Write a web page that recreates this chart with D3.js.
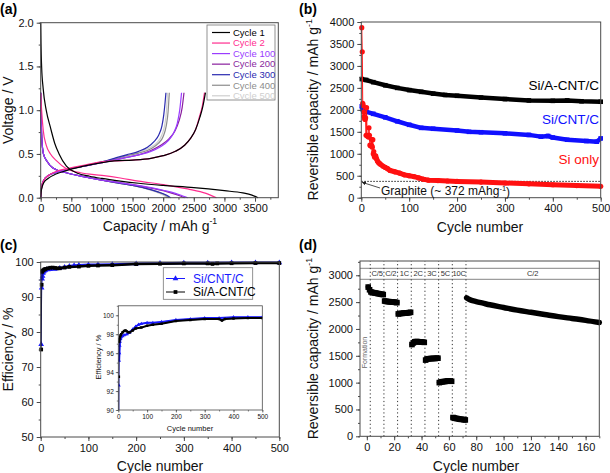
<!DOCTYPE html>
<html><head><meta charset="utf-8">
<script src="https://cdn.jsdelivr.net/npm/d3@7/dist/d3.min.js"></script>
<style>body{margin:0;background:#fff}svg{display:block}</style>
</head><body><svg id="c" width="610" height="473"></svg>
<script>
// ---------- Panel (a): voltage profiles [capacity mAh/g, voltage V] ----------
const a1Dis = [[0,2.0],[5,1.75],[15,1.5],[40,1.25],[90,1.0],[160,0.8],[230,0.62],[300,0.5],[420,0.36],[600,0.28],[800,0.245],[1000,0.22],[1300,0.19],[1600,0.165],[2000,0.14],[2500,0.115],[3000,0.08],[3300,0.055],[3450,0.03],[3550,0.0]];
const a1Chg = [[0,0],[15,0.1],[50,0.17],[120,0.22],[250,0.27],[420,0.31],[700,0.36],[1000,0.4],[1200,0.42],[1500,0.43],[1800,0.45],[2000,0.48],[2200,0.53],[2350,0.6],[2450,0.68],[2530,0.78],[2600,0.92],[2650,1.05],[2690,1.2]];
const a2Dis = [[0,1.19],[15,1.0],[40,0.78],[90,0.6],[160,0.5],[260,0.42],[420,0.33],[650,0.285],[1000,0.255],[1300,0.225],[1600,0.19],[2000,0.15],[2400,0.1],[2700,0.05],[2870,0.0]];
const a2Chg = [[0,0],[15,0.12],[50,0.2],[120,0.25],[250,0.3],[420,0.33],[700,0.37],[1000,0.41],[1200,0.42],[1500,0.43],[1800,0.45],[2000,0.48],[2200,0.53],[2350,0.6],[2450,0.68],[2530,0.78],[2590,0.92],[2640,1.05],[2675,1.2]];
const a100Dis = [[0,1.2],[8,0.9],[20,0.65],[45,0.5],[100,0.42],[200,0.34],[420,0.285],[700,0.24],[1000,0.2],[1200,0.18],[1500,0.15],[1800,0.115],[2000,0.085],[2200,0.05],[2320,0.02],[2400,0.0]];
const a100Chg = [[0,0],[15,0.12],[50,0.2],[120,0.25],[250,0.29],[420,0.32],[700,0.36],[1000,0.4],[1200,0.43],[1400,0.46],[1600,0.49],[1800,0.53],[1950,0.58],[2080,0.65],[2170,0.74],[2230,0.85],[2270,1.0],[2300,1.2]];
const a200Dis = [[0,1.2],[8,0.9],[20,0.65],[45,0.5],[100,0.42],[200,0.34],[420,0.285],[700,0.24],[1000,0.2],[1200,0.18],[1500,0.15],[1800,0.11],[2000,0.08],[2150,0.05],[2280,0.02],[2350,0.0]];
const a200Chg = [[0,0],[15,0.12],[50,0.2],[120,0.25],[250,0.29],[420,0.32],[700,0.36],[1000,0.4],[1200,0.43],[1400,0.46],[1600,0.49],[1800,0.54],[1960,0.6],[2090,0.67],[2190,0.76],[2260,0.88],[2310,1.03],[2340,1.2]];
const a300Dis = [[0,1.2],[8,0.9],[20,0.65],[45,0.5],[100,0.42],[200,0.34],[420,0.285],[700,0.24],[1000,0.2],[1200,0.175],[1500,0.14],[1700,0.11],[1900,0.07],[2050,0.03],[2120,0.0]];
const a300Chg = [[0,0],[15,0.12],[50,0.2],[120,0.25],[250,0.29],[420,0.32],[700,0.36],[1000,0.41],[1200,0.45],[1400,0.49],[1600,0.53],[1750,0.58],[1850,0.64],[1930,0.72],[1980,0.82],[2010,0.95],[2030,1.08],[2045,1.2]];
const a400Dis = [[0,1.2],[8,0.9],[20,0.65],[45,0.5],[100,0.42],[200,0.34],[420,0.285],[700,0.24],[1000,0.2],[1200,0.175],[1500,0.14],[1700,0.11],[1900,0.07],[2030,0.03],[2090,0.0]];
const a400Chg = [[0,0],[15,0.12],[50,0.2],[120,0.25],[250,0.29],[420,0.32],[700,0.36],[1000,0.41],[1200,0.44],[1400,0.48],[1600,0.51],[1800,0.56],[1920,0.62],[2000,0.7],[2050,0.82],[2080,0.98],[2100,1.2]];
const a500Dis = [[0,1.2],[8,0.9],[20,0.65],[45,0.5],[100,0.42],[200,0.34],[420,0.285],[700,0.24],[1000,0.2],[1200,0.175],[1500,0.14],[1700,0.105],[1880,0.065],[2000,0.03],[2060,0.0]];
const a500Chg = [[0,0],[15,0.12],[50,0.2],[120,0.25],[250,0.29],[420,0.32],[700,0.36],[1000,0.41],[1200,0.44],[1400,0.48],[1600,0.52],[1780,0.57],[1900,0.63],[1980,0.72],[2030,0.85],[2055,1.0],[2070,1.2]];
const aCycleNames = ['Cycle 1','Cycle 2','Cycle 100','Cycle 200','Cycle 300','Cycle 400','Cycle 500'];
const aColors = ['#000000','#ff2d8f','#9a3cff','#8a1f9e','#2a2ab0','#8c8c8c','#cfcfcf'];
const aXTicks = [0,500,1000,1500,2000,2500,3000,3500];
const aYTicks = [0,0.5,1.0,1.5,2.0];

// ---------- Panel (b): reversible capacity vs cycle ----------
const bACNT = [[1,2700],[10,2680],[25,2630],[50,2560],[75,2500],[100,2450],[125,2410],[150,2370],[175,2340],[200,2320],[250,2280],[300,2245],[350,2215],[400,2205],[430,2215],[460,2195],[500,2185]];
const bCNT = [[1,2080],[3,2010],[10,1960],[25,1910],[50,1830],[75,1740],[100,1660],[125,1590],[150,1570],[200,1530],[225,1500],[250,1490],[300,1465],[350,1430],[375,1390],[390,1405],[400,1370],[430,1320],[470,1290],[492,1275],[500,1350]];
const bSi = [[1,3870],[2,3320],[3,2150],[4,2100],[5,1950],[6,1850],[7,1800],[8,1780],[9,1820],[10,1420],[11,2050],[12,1420],[13,1400],[14,1410],[15,1380],[16,1590],[17,1420],[18,1200],[19,1180],[20,1200],[21,1330],[22,1180],[23,1150],[24,1320],[25,1000],[26,1050],[27,950],[28,920],[30,950],[32,880],[34,830],[36,800],[38,780],[40,760],[45,720],[50,690],[55,660],[60,620],[70,590],[80,560],[90,520],[100,500],[110,480],[120,450],[130,420],[140,400],[160,390],[180,380],[200,370],[250,355],[300,335],[350,315],[400,295],[450,275],[500,260]];
const bGraphite = 372;
const bXTicks = [0,100,200,300,400,500];
const bYTicks = [0,500,1000,1500,2000,2500,3000,3500,4000];

// ---------- Panel (c): coulombic efficiency ----------
const cCNT = [[1,76.5],[2,92.6],[3,95.2],[4,96.0],[5,96.8],[6,97.2],[8,97.5],[10,97.7],[15,97.8],[20,97.9],[30,98.0],[40,98.2],[50,98.5],[60,98.8],[70,99.0],[80,99.1],[100,99.2],[120,99.2],[150,99.3],[200,99.5],[250,99.6],[300,99.7],[350,99.7],[400,99.8],[450,99.8],[500,99.8]];
const cACNT = [[1,75.0],[2,93.5],[3,97.2],[4,97.5],[6,97.7],[8,97.9],[10,98.0],[15,98.2],[20,98.35],[25,98.4],[30,98.3],[35,98.2],[40,98.2],[50,98.4],[60,98.6],[80,98.7],[100,98.9],[120,99.0],[150,99.1],[200,99.4],[250,99.5],[300,99.6],[350,99.6],[360,99.45],[370,99.6],[400,99.65],[450,99.7],[500,99.7]];
const cXTicks = [0,100,200,300,400,500];
const cYTicks = [50,60,70,80,90,100];
const cInsetYTicks = [90,92,94,96,98,100];

// ---------- Panel (d): rate capability ----------
const dRate = [[1,2780],[2,2730],[3,2690],[4,2680],[5,2675],[6,2670],[7,2665],[8,2660],[9,2655],[10,2650],[11,2645],[12,2640],
 [13,2520],[14,2515],[15,2510],[16,2510],[17,2505],[18,2505],[19,2500],[20,2500],[21,2495],[22,2490],
 [23,2280],[24,2285],[25,2290],[26,2290],[27,2295],[28,2295],[29,2300],[30,2300],[31,2305],[32,2310],
 [33,1710],[34,1740],[35,1760],[36,1765],[37,1765],[38,1760],[39,1760],[40,1755],[41,1755],[42,1750],
 [43,1420],[44,1440],[45,1445],[46,1445],[47,1450],[48,1450],[49,1450],[50,1450],[51,1455],[52,1455],
 [53,1000],[54,1010],[55,1015],[56,1020],[57,1020],[58,1025],[59,1030],[60,1030],[61,1030],[62,1025],
 [63,350],[64,340],[65,335],[66,330],[67,325],[68,320],[69,315],[70,315],[71,310],[72,305]];
const dLong = [[73,2580],[75,2550],[80,2510],[85,2480],[90,2450],[100,2400],[110,2350],[120,2310],[130,2270],[140,2230],[150,2195],[160,2160],[170,2120]];
const dBounds = [2.5,12.5,22.5,32.5,42.5,52.5,62.5,72.5];
const dRateLabels = ['C/5','C/2','1C','2C','3C','5C','10C','C/2'];
const dHeader = [2925,3130];
const dXTicks = [0,20,40,60,80,100,120,140,160];
const dYTicks = [0,500,1000,1500,2000,2500,3000];

// ================= drawing =================
const FONT = '"Liberation Sans", Arial, Helvetica, sans-serif';
const AX = '#4a4a4a';
const svg = d3.select('#c').attr('font-family', FONT);

function drawAxes(g, x, y, o) {
  const [x0, x1] = x.range(), [yb, yt] = y.range();
  const mj = o.major || 4, mn = o.minor || 2;
  const parts = [
    [d3.axisBottom(x).tickValues(o.xMin).tickSize(mn).tickFormat(''), `translate(0,${yb})`],
    [d3.axisBottom(x).tickValues(o.xMaj).tickSize(mj).tickPadding(o.pad || 3).tickFormat(o.xFmt || d3.format('d')), `translate(0,${yb})`],
    [d3.axisLeft(y).tickValues(o.yMin).tickSize(mn).tickFormat(''), `translate(${x0},0)`],
    [d3.axisLeft(y).tickValues(o.yMaj).tickSize(mj).tickPadding(o.pad || 3).tickFormat(o.yFmt || d3.format('d')), `translate(${x0},0)`]
  ];
  parts.forEach(([ax, tr]) => {
    const a = g.append('g').attr('transform', tr).call(ax).attr('font-family', FONT);
    a.select('.domain').remove();
    a.selectAll('line').attr('stroke', AX).attr('stroke-width', o.tw || 1);
    a.selectAll('text').attr('font-size', o.fs).attr('fill', '#111');
  });
  g.append('rect').attr('x', x0).attr('y', yt).attr('width', x1 - x0).attr('height', yb - yt)
    .attr('fill', 'none').attr('stroke', AX).attr('stroke-width', o.fw || 1);
}
function mid(r) { return (r[0] + r[1]) / 2; }
function yTitle(g, cx, cy, txt, sup, fs) {
  const t = g.append('text').attr('transform', `translate(${cx},${cy}) rotate(-90)`)
    .attr('text-anchor', 'middle').attr('dy', '0.35em').attr('font-size', fs).attr('fill', '#111').text(txt);
  if (sup) t.append('tspan').attr('font-size', fs * 0.62).attr('dy', '-0.75em').text(sup);
}
function xTitle(g, cx, cy, txt, sup, fs) {
  const t = g.append('text').attr('x', cx).attr('y', cy).attr('text-anchor', 'middle').attr('dy', '0.35em')
    .attr('font-size', fs).attr('fill', '#111').text(txt);
  if (sup) t.append('tspan').attr('font-size', fs * 0.62).attr('dy', '-0.75em').text(sup);
}
function panelLabel(x, y, t) {
  svg.append('text').attr('x', x).attr('y', y).attr('font-size', 14).attr('font-weight', 'bold').attr('fill', '#000').text(t);
}
const range = (a, b, s) => d3.range(a, b + s / 2, s);

// ---------- (a) ----------
{
  const g = svg.append('g');
  const x = d3.scaleLinear().domain([0, 3880]).range([40.7, 278.3]);
  const y = d3.scaleLinear().domain([0, 2]).range([197.7, 22.7]);
  const line = d3.line().x(d => x(d[0])).y(d => y(d[1])).curve(d3.curveMonotoneX);
  const sets = [[a1Dis, a1Chg], [a2Dis, a2Chg], [a100Dis, a100Chg], [a200Dis, a200Chg], [a300Dis, a300Chg], [a400Dis, a400Chg], [a500Dis, a500Chg]];
  for (let i = sets.length - 1; i >= 0; i--) {
    sets[i].forEach(s => g.append('path').attr('d', line(s)).attr('fill', 'none').attr('stroke', aColors[i]).attr('stroke-width', 1.2));
  }
  drawAxes(g, x, y, { xMaj: aXTicks, xMin: range(0, 3750, 250), yMaj: aYTicks, yMin: range(0, 2, 0.25), yFmt: d3.format('.1f'), fs: 11 });
  const lg = g.append('g');
  lg.append('rect').attr('x', 207).attr('y', 25).attr('width', 68).attr('height', 75).attr('fill', '#fff').attr('stroke', '#777').attr('stroke-width', 0.8);
  aCycleNames.forEach((n, i) => {
    const yy = 32.5 + i * 10.55;
    lg.append('line').attr('x1', 212).attr('x2', 230).attr('y1', yy).attr('y2', yy).attr('stroke', aColors[i]).attr('stroke-width', 1.2);
    lg.append('text').attr('x', 233).attr('y', yy).attr('dy', '0.35em').attr('font-size', 9.5).attr('fill', aColors[i]).text(n);
  });
  yTitle(g, 8, mid(y.range()), 'Voltage / V', null, 14);
  xTitle(g, 160, 226, 'Capacity / mAh g', '-1', 14);
  panelLabel(0, 14, '(a)');
}

// ---------- (b) ----------
{
  const g = svg.append('g');
  const x = d3.scaleLinear().domain([0, 500]).range([361.3, 600.7]);
  const y = d3.scaleLinear().domain([0, 4000]).range([197.7, 22]);
  const line = d3.line().x(d => x(d[0])).y(d => y(d[1]));
  g.append('line').attr('x1', x(0)).attr('x2', x(500)).attr('y1', y(bGraphite)).attr('y2', y(bGraphite))
    .attr('stroke', '#222').attr('stroke-width', 1).attr('stroke-dasharray', '1.5,1.5');
  g.append('path').attr('d', line(bACNT)).attr('fill', 'none').attr('stroke', '#000').attr('stroke-width', 4.5).attr('stroke-linejoin', 'round');
  g.selectAll('.sqb').data(bACNT).enter().append('rect').attr('x', d => x(d[0]) - 2.3).attr('y', d => y(d[1]) - 2.3).attr('width', 4.6).attr('height', 4.6).attr('fill', '#000');
  g.append('path').attr('d', line(bCNT)).attr('fill', 'none').attr('stroke', '#1010ff').attr('stroke-width', 4.5).attr('stroke-linejoin', 'round');
  g.selectAll('.sqc').data(bCNT).enter().append('rect').attr('x', d => x(d[0]) - 2.3).attr('y', d => y(d[1]) - 2.3).attr('width', 4.6).attr('height', 4.6).attr('fill', '#1010ff');
  g.append('path').attr('d', line(bSi)).attr('fill', 'none').attr('stroke', '#ff1010').attr('stroke-width', 1);
  g.append('path').attr('d', line(bSi.filter(d => d[0] >= 28))).attr('fill', 'none').attr('stroke', '#ff1010').attr('stroke-width', 5).attr('stroke-linejoin', 'round');
  g.selectAll('.ci').data(bSi).enter().append('circle').attr('cx', d => x(d[0])).attr('cy', d => y(d[1])).attr('r', 2.6).attr('fill', '#ff1010');
  drawAxes(g, x, y, { xMaj: bXTicks, xMin: range(0, 500, 50), yMaj: bYTicks, yMin: range(0, 4000, 250), fs: 11 });
  g.append('text').attr('x', 599).attr('y', 85).attr('dy', '0.35em').attr('text-anchor', 'end').attr('font-size', 13.5).attr('fill', '#000').text('Si/A-CNT/C');
  g.append('text').attr('x', 599).attr('y', 119.5).attr('dy', '0.35em').attr('text-anchor', 'end').attr('font-size', 13.5).attr('fill', '#1010ff').text('Si/CNT/C');
  g.append('text').attr('x', 599).attr('y', 159).attr('dy', '0.35em').attr('text-anchor', 'end').attr('font-size', 13.5).attr('fill', '#ff1010').text('Si only');
  const gt = g.append('text').attr('x', 381).attr('y', 191).attr('dy', '0.35em').attr('font-size', 12).attr('fill', '#111').text('Graphite (~ ' + bGraphite + ' mAhg');
  gt.append('tspan').attr('font-size', 7.5).attr('dy', '-0.6em').text('-1');
  gt.append('tspan').attr('dy', '0.45em').text(')');
  const defs = svg.append('defs');
  defs.append('marker').attr('id', 'ah').attr('viewBox', '0 0 10 10').attr('refX', 9).attr('refY', 5)
    .attr('markerWidth', 5).attr('markerHeight', 5).attr('orient', 'auto')
    .append('path').attr('d', 'M0,0 L10,5 L0,10 z').attr('fill', '#222');
  g.append('line').attr('x1', 380).attr('y1', 188).attr('x2', x(2)).attr('y2', y(bGraphite) + 1)
    .attr('stroke', '#222').attr('stroke-width', 0.8).attr('marker-end', 'url(#ah)');
  yTitle(g, 313.5, mid(y.range()), 'Reversible capacity / mAh g', '-1', 14);
  xTitle(g, 480, 227, 'Cycle number', null, 14);
  panelLabel(299, 14, '(b)');
}

// ---------- (c) ----------
{
  const g = svg.append('g');
  const x = d3.scaleLinear().domain([0, 500]).range([40.7, 279.3]);
  const y = d3.scaleLinear().domain([50, 100]).range([437, 262]);
  const tri = d3.symbol().type(d3.symbolTriangle).size(14);
  const sq = d3.symbol().type(d3.symbolSquare).size(14);
  function series(gg, xs, ys, data, col, sym, w) {
    const ln = d3.line().x(d => xs(d[0])).y(d => ys(d[1]));
    gg.append('path').attr('d', ln(data)).attr('fill', 'none').attr('stroke', col).attr('stroke-width', 0.8);
    gg.append('path').attr('d', ln(data.filter(d => d[0] >= 3))).attr('fill', 'none').attr('stroke', col).attr('stroke-width', w).attr('stroke-linejoin', 'round');
    gg.selectAll(null).data(data).enter().append('path').attr('d', sym).attr('transform', d => `translate(${xs(d[0])},${ys(d[1])})`).attr('fill', col);
  }
  series(g, x, y, cCNT, '#1a1aff', tri, 2.5);
  series(g, x, y, cACNT, '#000', sq, 2.5);
  drawAxes(g, x, y, { xMaj: cXTicks, xMin: range(0, 500, 50), yMaj: cYTicks, yMin: range(50, 100, 5), fs: 11 });
  g.append('rect').attr('x', 163.3).attr('y', 267.7).attr('width', 89.4).attr('height', 31.6).attr('fill', '#fff').attr('stroke', '#777').attr('stroke-width', 0.8);
  [['Si/CNT/C', '#1a1aff', tri, 278.5], ['Si/A-CNT/C', '#000', sq, 292]].forEach(([n, col, sym, yy]) => {
    g.append('line').attr('x1', 166).attr('x2', 185).attr('y1', yy).attr('y2', yy).attr('stroke', col).attr('stroke-width', 1);
    g.append('path').attr('d', sym).attr('transform', `translate(175.5,${yy})`).attr('fill', col);
    g.append('text').attr('x', 193).attr('y', yy).attr('dy', '0.35em').attr('font-size', 12).attr('fill', col).text(n);
  });
  const xi = d3.scaleLinear().domain([0, 500]).range([118.3, 262.3]);
  const yi = d3.scaleLinear().domain([90, 101]).range([410, 305.8]);
  const ti = d3.symbol().type(d3.symbolTriangle).size(6);
  const si = d3.symbol().type(d3.symbolSquare).size(6);
  const gi = g.append('g');
  svg.append('clipPath').attr('id', 'ci').append('rect').attr('x', 118.3).attr('y', 305.8).attr('width', 144).attr('height', 104.2);
  const gd = gi.append('g').attr('clip-path', 'url(#ci)');
  series(gd, xi, yi, cCNT, '#1a1aff', ti, 2);
  series(gd, xi, yi, cACNT, '#000', si, 2);
  drawAxes(gi, xi, yi, { xMaj: cXTicks, xMin: range(0, 500, 50), yMaj: cInsetYTicks, yMin: range(90, 101, 1), fs: 6.5, major: 2.5, minor: 1.5, pad: 2, tw: 0.7, fw: 0.8 });
  yTitle(gi, 98.3, 357, 'Efficiency / %', null, 7.5);
  xTitle(gi, 190, 428.7, 'Cycle number', null, 7.5);
  yTitle(g, 8, mid(y.range()), 'Efficiency / %', null, 14);
  xTitle(g, 160, 466, 'Cycle number', null, 14);
  panelLabel(0, 250, '(c)');
}

// ---------- (d) ----------
{
  const g = svg.append('g');
  const x = d3.scaleLinear().domain([-5, 170]).range([360, 599.3]);
  const y = d3.scaleLinear().domain([0, 3266]).range([436.3, 261]);
  const line = d3.line().x(d => x(d[0])).y(d => y(d[1]));
  dHeader.forEach(v => g.append('line').attr('x1', x(-5)).attr('x2', x(170)).attr('y1', y(v)).attr('y2', y(v)).attr('stroke', '#777').attr('stroke-width', 0.9));
  dBounds.forEach(v => g.append('line').attr('x1', x(v)).attr('x2', x(v)).attr('y1', y(0)).attr('y2', y(3266)).attr('stroke', '#333').attr('stroke-width', 1).attr('stroke-dasharray', '1.2,2.6'));
  const mids = dBounds.map((b, i) => i < dBounds.length - 1 ? (b + dBounds[i + 1]) / 2 : (b + 170) / 2);
  dRateLabels.forEach((t, i) => g.append('text').attr('x', x(mids[i])).attr('y', y((dHeader[0] + dHeader[1]) / 2)).attr('dy', '0.35em')
    .attr('text-anchor', 'middle').attr('font-size', 7.5).attr('letter-spacing', -0.2).attr('fill', '#333').text(t));
  g.append('text').attr('transform', `translate(${x(-2)},${y(1560)}) rotate(-90)`).attr('text-anchor', 'middle').attr('dy', '0.35em')
    .attr('font-size', 7).attr('fill', '#666').text('Formation');
  const segs = [[1, 2], [3, 12], [13, 22], [23, 32], [33, 42], [43, 52], [53, 62], [63, 72]];
  segs.forEach(([s, e]) => {
    const d = dRate.filter(p => p[0] >= s && p[0] <= e);
    g.append('path').attr('d', line(d)).attr('fill', 'none').attr('stroke', '#000').attr('stroke-width', 5).attr('stroke-linecap', 'round').attr('stroke-linejoin', 'round');
  });
  g.selectAll('.r').data(dRate).enter().append('rect').attr('x', d => x(d[0]) - 2.8).attr('y', d => y(d[1]) - 2.8).attr('width', 5.6).attr('height', 5.6).attr('fill', '#000');
  g.append('path').attr('d', line.curve(d3.curveMonotoneX)(dLong)).attr('fill', 'none').attr('stroke', '#000').attr('stroke-width', 5.5).attr('stroke-linecap', 'round');
  drawAxes(g, x, y, { xMaj: dXTicks, xMin: range(0, 170, 10), yMaj: dYTicks, yMin: range(0, 3250, 250), fs: 11 });
  yTitle(g, 313.5, mid(y.range()), 'Reversible capacity / mAh g', '-1', 14);
  xTitle(g, 476, 466, 'Cycle number', null, 14);
  panelLabel(299, 250, '(d)');
}
</script></body></html>
